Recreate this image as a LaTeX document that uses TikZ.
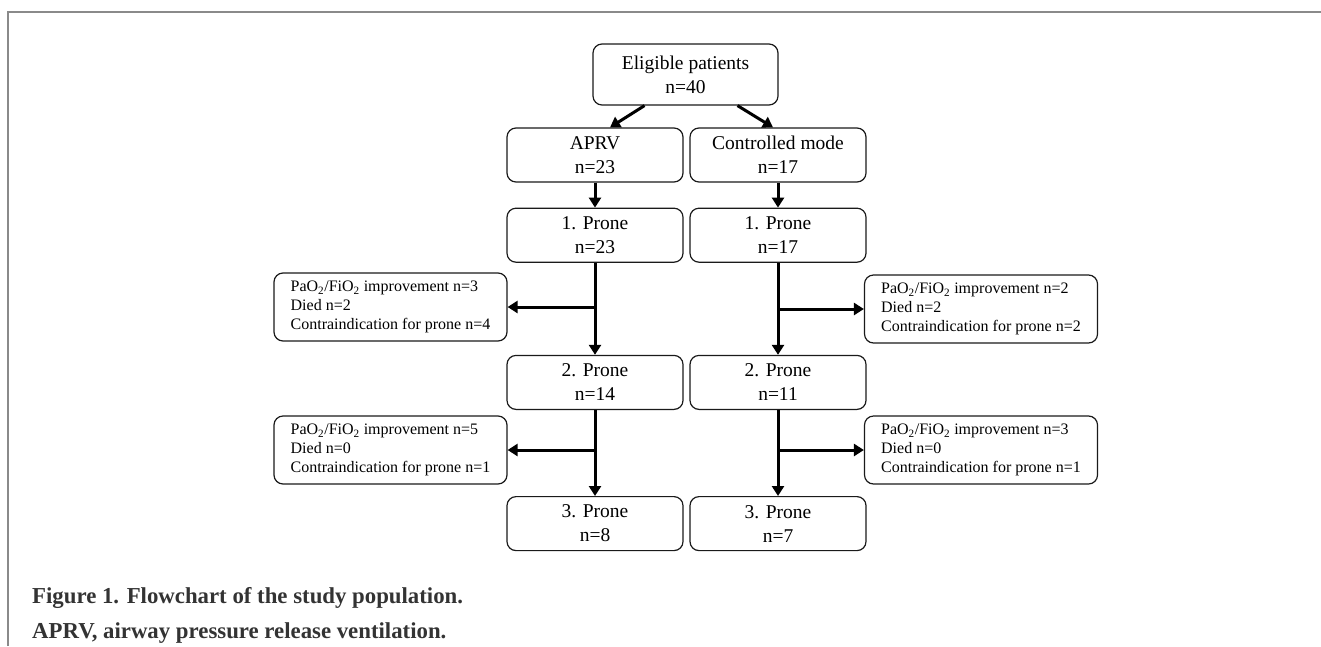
\documentclass[tikz,border=0pt]{standalone}
\usepackage{fontspec}
\setmainfont{Liberation Serif}
\usepackage{tikz}
\usetikzlibrary{arrows.meta, positioning, calc}
\definecolor{frameline}{HTML}{8A8A8A}
\definecolor{ink}{HTML}{1A1A1A}
\definecolor{capink}{HTML}{333333}
\tikzset{
  stage/.style={rectangle, rounded corners=9pt, draw=ink, line width=1.2pt, fill=white, align=center, font=\fontsize{19.5}{24}\selectfont, inner sep=3pt, minimum width=176pt, minimum height=54pt},
  excl/.style={rectangle, rounded corners=9pt, draw=ink, line width=1.2pt, fill=white, align=left, font=\fontsize{16}{19}\selectfont, inner sep=3pt, minimum width=233pt, minimum height=68pt},
  flow/.style={-{Triangle[length=10pt,width=12pt]}, line width=3pt},
  figcap/.style={anchor=base west, font=\fontsize{22.8}{26}\selectfont\bfseries, text=capink, inner sep=0pt},
}

\begin{document}
\begin{tikzpicture}[x=1pt,y=-1pt]
  \useasboundingbox (0,0) rectangle (1321,646);
  \draw[frameline, line width=2pt] (7.5,646) -- (7.5,12) -- (1321,12);

  \node[stage, minimum width=185pt, minimum height=61pt] (elig) at (685.5,74.5) {Eligible patients\\n=40};
  \node[stage] (aprv) at (595,155) {APRV\\n=23};
  \node[stage] (ctrl) at (778,155) {Controlled mode\\n=17};
  \node[stage, below=25pt of aprv] (p1a) {1. Prone\\n=23};
  \node[stage, below=25pt of ctrl] (p1c) {1. Prone\\n=17};
  \node[stage, below=92pt of p1a] (p2a) {2. Prone\\n=14};
  \node[stage, below=92pt of p1c] (p2c) {2. Prone\\n=11};
  \node[stage, below=86pt of p2a] (p3a) {3. Prone\\n=8};
  \node[stage, below=86pt of p2c] (p3c) {3. Prone\\n=7};

  \node[excl] (out1a) at (390.5,307) {PaO\textsubscript{2}/FiO\textsubscript{2} improvement n=3\\Died n=2\\Contraindication for prone n=4};
  \node[excl] (out1c) at (981,309) {PaO\textsubscript{2}/FiO\textsubscript{2} improvement n=2\\Died n=2\\Contraindication for prone n=2};
  \node[excl] (out2a) at (390.5,450) {PaO\textsubscript{2}/FiO\textsubscript{2} improvement n=5\\Died n=0\\Contraindication for prone n=1};
  \node[excl] (out2c) at (981,450) {PaO\textsubscript{2}/FiO\textsubscript{2} improvement n=3\\Died n=0\\Contraindication for prone n=1};

  \draw[flow] ([xshift=-41pt]elig.south) -- ([xshift=15pt]aprv.north);
  \draw[flow] ([xshift=52pt]elig.south) -- ([xshift=-5pt]ctrl.north);
  \draw[flow] (aprv) -- (p1a);
  \draw[flow] (ctrl) -- (p1c);
  \draw[flow] (p1a) -- (p2a);
  \draw[flow] (p1c) -- (p2c);
  \draw[flow] (p2a) -- (p3a);
  \draw[flow] (p2c) -- (p3c);
  \draw[flow] (p1a.south |- out1a) -- (out1a);
  \draw[flow] (p1c.south |- out1c) -- (out1c);
  \draw[flow] (p2a.south |- out2a) -- (out2a);
  \draw[flow] (p2c.south |- out2c) -- (out2c);

  \node[figcap] (cap1) at (32,603) {Figure 1. Flowchart of the study population.};
  \node[figcap] (cap2) at (32,638) {APRV, airway pressure release ventilation.};
\end{tikzpicture}
\end{document}
